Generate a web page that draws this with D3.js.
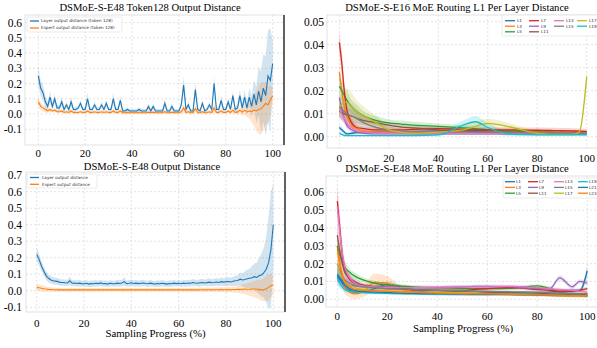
<!DOCTYPE html>
<html>
<head>
<meta charset="utf-8">
<script src="https://cdn.jsdelivr.net/npm/d3@7"></script>
<style>
  body { margin: 0; background: #fff; }
  svg { display: block; font-family: "Liberation Serif", "Times New Roman", serif; }
</style>
</head>
<body>
<div id="chart"></div>
<script>
// ---- data ----
const progress = d3.range(0, 101);

const tokenLayerMean = [0.25,0.17,0.14,0.08,0.05,0.11,0.05,0.10,0.04,0.04,
  0.08,0.03,0.06,0.03,0.08,0.03,0.03,0.04,0.07,0.03,
  0.03,0.10,0.03,0.03,0.06,0.03,0.03,0.06,0.03,0.07,
  0.03,0.03,0.10,0.03,0.03,0.09,0.02,0.02,0.03,0.02,
  0.02,0.02,0.02,0.03,0.02,0.02,0.02,0.05,0.02,0.05,
  0.02,0.02,0.02,0.02,0.07,0.02,0.02,0.05,0.02,0.02,
  0.02,0.06,0.19,0.03,0.06,0.02,0.02,0.16,0.03,0.02,
  0.07,0.02,0.03,0.06,0.03,0.20,0.03,0.03,0.09,0.03,
  0.03,0.08,0.03,0.12,0.03,0.04,0.12,0.04,0.11,0.04,
  0.11,0.05,0.13,0.06,0.15,0.08,0.17,0.12,0.25,0.22,0.33];
const tokenLayerSd = [0.06,0.05,0.05,0.04,0.03,0.04,0.02,0.03,0.02,0.02,
  0.03,0.015,0.02,0.015,0.03,0.015,0.015,0.015,0.02,0.015,
  0.015,0.04,0.015,0.015,0.02,0.015,0.015,0.02,0.015,0.02,
  0.015,0.015,0.04,0.015,0.015,0.03,0.012,0.012,0.015,0.012,
  0.012,0.012,0.012,0.015,0.012,0.012,0.012,0.02,0.012,0.02,
  0.012,0.012,0.012,0.012,0.03,0.012,0.012,0.02,0.012,0.012,
  0.012,0.02,0.06,0.015,0.02,0.012,0.012,0.05,0.015,0.012,
  0.02,0.012,0.015,0.02,0.015,0.05,0.015,0.015,0.03,0.015,
  0.015,0.025,0.015,0.03,0.02,0.025,0.04,0.03,0.05,0.04,
  0.06,0.07,0.09,0.12,0.16,0.2,0.22,0.26,0.3,0.34,0.15];
const tokenExpertMean = [0.08,0.05,0.04,0.03,0.02,0.03,0.02,0.025,0.015,0.015,
  0.02,0.01,0.015,0.01,0.02,0.01,0.01,0.01,0.015,0.01,
  0.01,0.02,0.01,0.01,0.015,0.01,0.01,0.015,0.01,0.015,
  0.01,0.01,0.02,0.01,0.01,0.02,0.008,0.008,0.01,0.008,
  0.008,0.008,0.008,0.01,0.008,0.008,0.008,0.012,0.008,0.012,
  0.008,0.008,0.008,0.008,0.015,0.008,0.008,0.012,0.008,0.008,
  0.008,0.015,0.04,0.01,0.015,0.008,0.008,0.035,0.01,0.008,
  0.015,0.008,0.01,0.015,0.01,0.04,0.01,0.01,0.02,0.01,
  0.01,0.02,0.01,0.025,0.01,0.012,0.025,0.012,0.025,0.012,
  0.02,0.015,0.025,0.02,0.03,0.035,0.05,0.07,0.06,0.09,0.12];
const tokenExpertSd = [0.03,0.025,0.02,0.02,0.015,0.015,0.012,0.012,0.01,0.01,
  0.012,0.01,0.01,0.01,0.012,0.01,0.01,0.01,0.01,0.01,
  0.01,0.012,0.01,0.01,0.01,0.01,0.01,0.01,0.01,0.01,
  0.01,0.01,0.012,0.01,0.01,0.012,0.008,0.008,0.008,0.008,
  0.008,0.008,0.008,0.008,0.008,0.008,0.008,0.01,0.008,0.01,
  0.008,0.008,0.008,0.008,0.012,0.008,0.008,0.01,0.008,0.008,
  0.008,0.012,0.03,0.01,0.012,0.008,0.008,0.025,0.01,0.008,
  0.012,0.008,0.01,0.012,0.01,0.03,0.01,0.01,0.015,0.01,
  0.01,0.015,0.01,0.02,0.012,0.015,0.02,0.02,0.03,0.03,
  0.05,0.07,0.1,0.13,0.16,0.17,0.16,0.14,0.12,0.1,0.05];

const layerMean = [0.22,0.19,0.15,0.12,0.09,0.075,0.065,0.06,0.058,0.055,
  0.05,0.05,0.048,0.047,0.06,0.045,0.047,0.044,0.046,0.043,
  0.042,0.045,0.04,0.043,0.042,0.045,0.043,0.047,0.042,0.044,
  0.04,0.045,0.043,0.042,0.046,0.044,0.047,0.055,0.043,0.045,
  0.048,0.044,0.046,0.043,0.045,0.047,0.044,0.042,0.046,0.043,
  0.041,0.044,0.042,0.045,0.043,0.04,0.044,0.042,0.046,0.043,
  0.045,0.042,0.046,0.044,0.047,0.045,0.05,0.047,0.045,0.048,
  0.05,0.047,0.049,0.052,0.048,0.05,0.053,0.05,0.055,0.052,
  0.054,0.056,0.053,0.057,0.06,0.062,0.07,0.065,0.068,0.072,
  0.075,0.078,0.085,0.08,0.09,0.095,0.11,0.13,0.17,0.25,0.40];
const layerSd = [0.04,0.035,0.03,0.025,0.025,0.025,0.022,0.022,0.02,0.02,
  0.02,0.02,0.02,0.02,0.025,0.018,0.02,0.018,0.02,0.018,
  0.018,0.02,0.018,0.02,0.018,0.02,0.018,0.02,0.018,0.02,
  0.018,0.02,0.018,0.018,0.02,0.02,0.02,0.025,0.018,0.02,
  0.02,0.018,0.02,0.018,0.02,0.02,0.018,0.018,0.02,0.018,
  0.018,0.02,0.018,0.02,0.018,0.018,0.02,0.018,0.02,0.018,
  0.02,0.018,0.02,0.02,0.02,0.02,0.022,0.02,0.02,0.022,
  0.022,0.02,0.022,0.024,0.022,0.022,0.024,0.022,0.025,0.024,
  0.025,0.026,0.025,0.028,0.03,0.032,0.04,0.04,0.05,0.055,
  0.06,0.07,0.08,0.09,0.11,0.13,0.15,0.2,0.28,0.35,0.25];
const expertMean = [0.02,0.018,0.015,0.012,0.01,0.008,0.007,0.006,0.006,0.005,
  0.005,0.005,0.005,0.005,0.006,0.005,0.005,0.005,0.005,0.005,
  0.005,0.005,0.005,0.005,0.005,0.005,0.005,0.005,0.005,0.005,
  0.005,0.005,0.005,0.005,0.005,0.005,0.005,0.005,0.005,0.005,
  0.005,0.005,0.005,0.005,0.005,0.005,0.005,0.005,0.005,0.005,
  0.005,0.005,0.005,0.005,0.005,0.005,0.005,0.005,0.005,0.005,
  0.005,0.005,0.005,0.005,0.005,0.005,0.006,0.005,0.005,0.006,
  0.006,0.005,0.006,0.006,0.005,0.006,0.006,0.006,0.007,0.006,
  0.006,0.007,0.006,0.007,0.007,0.008,0.008,0.009,0.01,0.009,
  0.009,0.01,0.01,0.009,0.008,0.005,0.006,0.012,0.02,0.03,0.035];
const expertSd = [0.02,0.02,0.018,0.018,0.016,0.015,0.014,0.012,0.012,0.012,
  0.012,0.01,0.012,0.01,0.014,0.01,0.012,0.01,0.012,0.01,
  0.012,0.01,0.012,0.01,0.012,0.01,0.012,0.01,0.012,0.01,
  0.012,0.01,0.012,0.01,0.012,0.01,0.012,0.014,0.01,0.012,
  0.012,0.01,0.012,0.01,0.012,0.01,0.012,0.01,0.012,0.01,
  0.012,0.01,0.012,0.01,0.012,0.01,0.012,0.01,0.012,0.01,
  0.012,0.01,0.012,0.01,0.012,0.012,0.014,0.012,0.012,0.014,
  0.014,0.012,0.014,0.014,0.012,0.014,0.015,0.014,0.016,0.015,
  0.016,0.018,0.016,0.018,0.02,0.02,0.025,0.028,0.03,0.035,
  0.04,0.045,0.05,0.055,0.06,0.065,0.07,0.075,0.08,0.07,0.06];

// routing L1 distances, sampled at these progress points
const routingX = [0,1,2,3,5,7,10,15,20,25,30,40,50,55,60,70,80,85,89,94,97,100];

const e16Layers = ['L1','L3','L5','L7','L9','L11','L13','L15','L17','L19'];
const e16Mean = [
  [0.004,0.003,0.002,0.0012,0.0015,0.0018,0.002,0.002,0.002,0.002,0.0022,0.0025,0.003,0.0028,0.0025,0.002,0.0018,0.0018,0.0018,0.0018,0.0018,0.0018],
  [0.028,0.02,0.013,0.009,0.005,0.0035,0.0025,0.002,0.002,0.002,0.002,0.002,0.0022,0.0022,0.0022,0.002,0.002,0.002,0.002,0.002,0.002,0.002],
  [0.022,0.02,0.018,0.016,0.013,0.011,0.009,0.007,0.006,0.0055,0.005,0.0045,0.0038,0.0035,0.003,0.0025,0.002,0.002,0.0018,0.0018,0.0018,0.0018],
  [0.041,0.032,0.02,0.012,0.006,0.004,0.0035,0.003,0.003,0.003,0.0032,0.0035,0.0032,0.003,0.003,0.003,0.0028,0.0027,0.0026,0.0025,0.0024,0.0022],
  [0.017,0.012,0.008,0.005,0.003,0.002,0.0015,0.0012,0.0012,0.0012,0.0012,0.0012,0.0012,0.0012,0.0012,0.0012,0.0012,0.0012,0.0012,0.0012,0.0012,0.0012],
  [0.011,0.0105,0.01,0.0095,0.009,0.008,0.007,0.006,0.005,0.0042,0.0038,0.003,0.0025,0.0022,0.002,0.0018,0.0016,0.0015,0.0015,0.0015,0.0015,0.0015],
  [0.012,0.01,0.008,0.006,0.004,0.0025,0.002,0.0015,0.0015,0.0015,0.0015,0.0015,0.0015,0.0015,0.0015,0.0015,0.0015,0.0015,0.0015,0.0015,0.0015,0.0015],
  [0.013,0.012,0.011,0.01,0.009,0.008,0.006,0.004,0.003,0.0025,0.002,0.002,0.002,0.002,0.002,0.0018,0.0016,0.0015,0.0015,0.0015,0.0015,0.0015],
  [0.013,0.014,0.015,0.015,0.013,0.011,0.009,0.006,0.003,0.002,0.0015,0.002,0.003,0.0045,0.0058,0.004,0.0015,0.001,0.001,0.001,0.002,0.026],
  [0.0015,0.001,0.0006,0.0005,0.0005,0.0005,0.0005,0.0005,0.0005,0.0005,0.0005,0.0008,0.005,0.0065,0.004,0.001,0.0008,0.0008,0.0008,0.0008,0.0008,0.0008]
];
const e16Sd = [
  [0.001,0.001,0.0008,0.0008,0.0008,0.0008,0.0008,0.0008,0.0008,0.0008,0.0008,0.0008,0.0008,0.0008,0.0008,0.0008,0.0008,0.0008,0.0008,0.0008,0.0008,0.0008],
  [0.004,0.004,0.003,0.003,0.002,0.0015,0.001,0.0008,0.0008,0.0008,0.0008,0.0008,0.0008,0.0008,0.0008,0.0008,0.0008,0.0008,0.0008,0.0008,0.0008,0.0008],
  [0.004,0.004,0.004,0.004,0.003,0.003,0.002,0.002,0.0015,0.0015,0.0015,0.0012,0.0012,0.001,0.001,0.001,0.001,0.001,0.001,0.001,0.001,0.001],
  [0.005,0.005,0.004,0.003,0.002,0.0015,0.001,0.001,0.001,0.001,0.001,0.001,0.001,0.001,0.001,0.001,0.0012,0.0012,0.0012,0.0012,0.0012,0.0012],
  [0.003,0.003,0.002,0.0015,0.001,0.0008,0.0006,0.0005,0.0005,0.0005,0.0005,0.0005,0.0005,0.0005,0.0005,0.0005,0.0005,0.0005,0.0005,0.0005,0.0005,0.0005],
  [0.003,0.003,0.003,0.003,0.003,0.0025,0.002,0.0015,0.0012,0.001,0.001,0.001,0.0008,0.0008,0.0008,0.0008,0.0008,0.0008,0.0008,0.0008,0.0008,0.0008],
  [0.003,0.003,0.002,0.0015,0.001,0.0008,0.0006,0.0005,0.0005,0.0005,0.0005,0.0005,0.0005,0.0005,0.0005,0.0005,0.0005,0.0005,0.0005,0.0005,0.0005,0.0005],
  [0.004,0.005,0.005,0.005,0.005,0.004,0.003,0.002,0.0015,0.001,0.001,0.001,0.001,0.001,0.001,0.0008,0.0008,0.0008,0.0008,0.0008,0.0008,0.0008],
  [0.004,0.005,0.006,0.006,0.006,0.005,0.004,0.003,0.0015,0.001,0.001,0.001,0.0015,0.002,0.002,0.0015,0.0008,0.0006,0.0006,0.0006,0.001,0.004],
  [0.0008,0.0006,0.0005,0.0004,0.0004,0.0004,0.0004,0.0004,0.0004,0.0004,0.0004,0.0006,0.002,0.0025,0.002,0.0008,0.0005,0.0005,0.0005,0.0005,0.0005,0.0005]
];

const e48Layers = ['L1','L3','L5','L7','L9','L11','L13','L15','L17','L19','L21','L23'];
const e48Mean = [
  [0.013,0.011,0.009,0.007,0.005,0.004,0.0045,0.006,0.0085,0.007,0.005,0.0035,0.003,0.003,0.003,0.0032,0.0035,0.004,0.0045,0.005,0.005,0.016],
  [0.03,0.02,0.012,0.007,0.004,0.003,0.004,0.0095,0.009,0.006,0.0045,0.0035,0.003,0.003,0.003,0.0028,0.0025,0.0022,0.002,0.002,0.002,0.002],
  [0.03,0.025,0.021,0.018,0.015,0.013,0.011,0.009,0.008,0.0075,0.007,0.0065,0.0062,0.006,0.006,0.0062,0.0075,0.006,0.004,0.003,0.003,0.003],
  [0.055,0.04,0.025,0.017,0.011,0.009,0.008,0.007,0.006,0.006,0.0055,0.005,0.005,0.0055,0.006,0.0065,0.0055,0.005,0.0045,0.0045,0.005,0.006],
  [0.02,0.016,0.013,0.011,0.009,0.008,0.0075,0.007,0.007,0.0065,0.0065,0.0065,0.007,0.0072,0.0073,0.007,0.006,0.006,0.012,0.007,0.01,0.009],
  [0.036,0.027,0.02,0.015,0.012,0.01,0.008,0.007,0.0065,0.006,0.0055,0.005,0.0045,0.0045,0.004,0.0038,0.0035,0.003,0.003,0.0025,0.0025,0.0025],
  [0.052,0.038,0.026,0.018,0.012,0.009,0.0075,0.007,0.0065,0.0065,0.0065,0.0068,0.007,0.007,0.007,0.0072,0.0065,0.006,0.0055,0.005,0.0045,0.004],
  [0.014,0.012,0.011,0.01,0.008,0.0075,0.007,0.0065,0.006,0.0058,0.0055,0.005,0.0048,0.0045,0.0045,0.0042,0.004,0.0038,0.0035,0.0033,0.003,0.003],
  [0.02,0.015,0.012,0.01,0.008,0.0065,0.0055,0.005,0.0045,0.0042,0.004,0.0038,0.0035,0.0033,0.003,0.003,0.0028,0.0025,0.0022,0.002,0.0018,0.0018],
  [0.012,0.009,0.007,0.0055,0.0045,0.004,0.0038,0.0035,0.0033,0.0032,0.003,0.003,0.003,0.003,0.003,0.0028,0.0026,0.0025,0.0024,0.0023,0.0022,0.002],
  [0.014,0.012,0.01,0.008,0.006,0.005,0.0045,0.004,0.0038,0.0035,0.0033,0.003,0.003,0.0028,0.0028,0.0027,0.0025,0.0024,0.0023,0.0022,0.0022,0.002],
  [0.028,0.02,0.014,0.01,0.007,0.0055,0.005,0.0048,0.0045,0.0042,0.004,0.0035,0.0032,0.003,0.003,0.0028,0.0025,0.0024,0.0022,0.002,0.002,0.002]
];
const e48Sd = [
  [0.004,0.004,0.003,0.002,0.0015,0.001,0.001,0.0015,0.0015,0.0012,0.001,0.0008,0.0008,0.0008,0.0008,0.0008,0.0008,0.0008,0.001,0.001,0.001,0.004],
  [0.006,0.006,0.005,0.004,0.003,0.003,0.003,0.005,0.004,0.002,0.0012,0.001,0.0008,0.0008,0.0008,0.0008,0.0008,0.0008,0.0008,0.0008,0.0008,0.0008],
  [0.004,0.004,0.003,0.003,0.002,0.002,0.0015,0.0012,0.001,0.001,0.001,0.001,0.001,0.001,0.001,0.001,0.001,0.001,0.001,0.0008,0.0008,0.0008],
  [0.008,0.007,0.005,0.004,0.002,0.0015,0.0012,0.001,0.001,0.001,0.001,0.001,0.001,0.001,0.001,0.001,0.001,0.001,0.001,0.001,0.001,0.0012],
  [0.004,0.003,0.003,0.002,0.0015,0.0012,0.001,0.001,0.001,0.001,0.001,0.001,0.001,0.001,0.001,0.001,0.001,0.001,0.0015,0.0012,0.0012,0.0012],
  [0.006,0.005,0.004,0.003,0.002,0.0015,0.0012,0.001,0.001,0.001,0.001,0.001,0.001,0.001,0.001,0.0008,0.0008,0.0008,0.0008,0.0008,0.0008,0.0008],
  [0.012,0.01,0.007,0.004,0.002,0.0015,0.0012,0.001,0.001,0.001,0.001,0.001,0.001,0.001,0.001,0.001,0.001,0.001,0.001,0.001,0.001,0.001],
  [0.004,0.003,0.003,0.002,0.0015,0.0012,0.001,0.001,0.001,0.001,0.001,0.001,0.001,0.001,0.001,0.0008,0.0008,0.0008,0.0008,0.0008,0.0008,0.0008],
  [0.004,0.003,0.003,0.002,0.0015,0.0012,0.001,0.001,0.001,0.001,0.001,0.0008,0.0008,0.0008,0.0008,0.0008,0.0008,0.0008,0.0008,0.0008,0.0008,0.0008],
  [0.003,0.003,0.002,0.0015,0.001,0.001,0.0008,0.0008,0.0008,0.0008,0.0008,0.0008,0.0008,0.0008,0.0008,0.0008,0.0008,0.0008,0.0008,0.0008,0.0008,0.0008],
  [0.004,0.003,0.003,0.002,0.0015,0.001,0.001,0.001,0.0008,0.0008,0.0008,0.0008,0.0008,0.0008,0.0008,0.0008,0.0008,0.0008,0.0008,0.0008,0.0008,0.0008],
  [0.005,0.004,0.003,0.002,0.0015,0.0012,0.001,0.001,0.001,0.0008,0.0008,0.0008,0.0008,0.0008,0.0008,0.0008,0.0008,0.0008,0.0008,0.0008,0.0008,0.0008]
];

const tenColors = ['#1f77b4','#ff7f0e','#2ca02c','#d62728','#9467bd','#8c564b','#e377c2','#7f7f7f','#bcbd22','#17becf'];

// ---- layout ----
const svg = d3.select('#chart').append('svg')
  .attr('width', 597)
  .attr('height', 348);

function makePanel(cfg) {
  const g = svg.append('g');
  const x = d3.scaleLinear().domain([0, 100]).range(cfg.xRange);
  const y = d3.scaleLinear().domain(cfg.yDomain).range(cfg.yRange);
  const f = cfg.frame;

  // grid
  g.append('g').selectAll('line')
    .data([0, 20, 40, 60, 80, 100])
    .join('line')
    .attr('x1', d => x(d)).attr('x2', d => x(d))
    .attr('y1', f.t).attr('y2', f.b)
    .attr('stroke', '#d0d0d0').attr('stroke-width', 0.6)
    .attr('stroke-dasharray', '2,2');
  g.append('g').selectAll('line')
    .data(cfg.yTicks)
    .join('line')
    .attr('x1', f.l).attr('x2', f.r)
    .attr('y1', d => y(d)).attr('y2', d => y(d))
    .attr('stroke', '#d0d0d0').attr('stroke-width', 0.6)
    .attr('stroke-dasharray', '2,2');

  // frame
  g.append('rect')
    .attr('x', f.l).attr('y', f.t)
    .attr('width', f.r - f.l).attr('height', f.b - f.t)
    .attr('fill', 'none').attr('stroke', '#d9d9d9').attr('stroke-width', 0.8);
  if (cfg.darkRight) {
    g.append('line')
      .attr('x1', f.r).attr('x2', f.r).attr('y1', f.t).attr('y2', f.b)
      .attr('stroke', '#333').attr('stroke-width', 1.5);
  }

  // tick labels
  g.append('g').selectAll('text')
    .data(cfg.yTicks)
    .join('text')
    .attr('x', cfg.yLabelX)
    .attr('y', d => y(d))
    .attr('dy', '0.35em')
    .attr('text-anchor', 'end')
    .style('font-size', '11.5px')
    .text(d => d3.format(cfg.yFmt)(d).replace('−', '-'));
  g.append('g').selectAll('text')
    .data([0, 20, 40, 60, 80, 100])
    .join('text')
    .attr('x', d => x(d))
    .attr('y', cfg.xLabelY)
    .attr('text-anchor', 'middle')
    .style('font-size', '11px')
    .text(d => d);

  g.append('text')
    .attr('x', cfg.titleX).attr('y', cfg.titleY)
    .attr('text-anchor', 'middle')
    .style('font-size', '10.6px')
    .text(cfg.title);

  if (cfg.axisTitleY) {
    g.append('text')
      .attr('x', cfg.axisTitleX).attr('y', cfg.axisTitleY)
      .attr('text-anchor', 'middle')
      .style('font-size', '10.8px')
      .text('Sampling Progress (%)');
  }

  const clipId = 'clip-' + cfg.id;
  svg.append('clipPath').attr('id', clipId)
    .append('rect')
    .attr('x', f.l).attr('y', f.t)
    .attr('width', f.r - f.l).attr('height', f.b - f.t);
  const plot = g.append('g').attr('clip-path', `url(#${clipId})`);
  return { g, plot, x, y };
}

function drawSeries(p, xs, mean, sd, color, curve, width) {
  const pts = xs.map((t, i) => ({ t, m: mean[i], s: sd[i] }));
  const area = d3.area()
    .x(d => p.x(d.t))
    .y0(d => p.y(d.m - d.s))
    .y1(d => p.y(d.m + d.s))
    .curve(curve);
  const line = d3.line()
    .x(d => p.x(d.t))
    .y(d => p.y(d.m))
    .curve(curve);
  p.plot.append('path').datum(pts)
    .attr('d', area)
    .attr('fill', color).attr('fill-opacity', 0.2).attr('stroke', 'none');
  return () => p.plot.append('path').datum(pts)
    .attr('d', line)
    .attr('fill', 'none').attr('stroke', color).attr('stroke-width', width);
}

// colSizes: how many entries go in each legend column (matplotlib fills columns top-down)
function drawLegend(items, box, colSizes, rowY, colX, lineLen, textDx, fontSize) {
  const lg = svg.append('g');
  lg.append('rect')
    .attr('x', box.x).attr('y', box.y)
    .attr('width', box.w).attr('height', box.h)
    .attr('fill', '#fff').attr('fill-opacity', 0.85)
    .attr('stroke', '#ddd').attr('stroke-width', 0.6).attr('rx', 1.5);
  let idx = 0;
  colSizes.forEach((n, c) => {
    for (let r = 0; r < n; r++) {
      const it = items[idx++];
      const lx = colX[c], ly = rowY[r];
      lg.append('line')
        .attr('x1', lx).attr('x2', lx + lineLen)
        .attr('y1', ly).attr('y2', ly)
        .attr('stroke', it.color).attr('stroke-width', 1.3);
      lg.append('text')
        .attr('x', lx + textDx).attr('y', ly)
        .attr('dy', '0.35em')
        .style('font-family', '"DejaVu Sans", sans-serif')
        .style('font-size', fontSize + 'px')
        .attr('fill', '#333')
        .text(it.name);
    }
  });
}

// ---- top left ----
const tl = makePanel({
  id: 'tl', frame: { l: 25, r: 284, t: 15, b: 145 },
  xRange: [38.3, 272.7], yDomain: [0, 0.6], yRange: [114, 22.5],
  yTicks: [-0.1, 0, 0.1, 0.2, 0.3, 0.4, 0.5, 0.6], yFmt: '.1f',
  yLabelX: 22, xLabelY: 156.5, darkRight: true,
  title: 'DSMoE-S-E48 Token128 Output Distance', titleX: 150, titleY: 11
});
const tlBlue = drawSeries(tl, progress, tokenLayerMean, tokenLayerSd, tenColors[0], d3.curveLinear, 1.1);
const tlOrange = drawSeries(tl, progress, tokenExpertMean, tokenExpertSd, tenColors[1], d3.curveLinear, 1.1);
tlBlue(); tlOrange();
drawLegend([
  { name: 'Layer output distance (token 128)', color: tenColors[0] },
  { name: 'Expert output distance (token 128)', color: tenColors[1] }
], { x: 27, y: 17, w: 95, h: 15 }, [2], [21, 28], [30], 9, 11, 4.2);

// ---- bottom left ----
const bl = makePanel({
  id: 'bl', frame: { l: 26, r: 285, t: 172, b: 312 },
  xRange: [36.7, 273.3], yDomain: [0, 0.7], yRange: [290.7, 175.2],
  yTicks: [-0.1, 0, 0.1, 0.2, 0.3, 0.4, 0.5, 0.6, 0.7], yFmt: '.1f',
  yLabelX: 22, xLabelY: 326.5, darkRight: true,
  title: 'DSMoE-S-E48 Output Distance', titleX: 152, titleY: 170,
  axisTitleX: 155.5, axisTitleY: 337
});
const blBlue = drawSeries(bl, progress, layerMean, layerSd, tenColors[0], d3.curveLinear, 1.1);
const blOrange = drawSeries(bl, progress, expertMean, expertSd, tenColors[1], d3.curveLinear, 1.1);
blBlue(); blOrange();
drawLegend([
  { name: 'Layer output distance', color: tenColors[0] },
  { name: 'Expert output distance', color: tenColors[1] }
], { x: 27, y: 174, w: 70, h: 14 }, [2], [177.5, 184.3], [30], 9, 12, 4.2);

// ---- top right ----
const tr = makePanel({
  id: 'tr', frame: { l: 327, r: 598, t: 15, b: 148 },
  xRange: [339.3, 586.7], yDomain: [0, 0.05], yRange: [136.7, 21.7],
  yTicks: [0, 0.01, 0.02, 0.03, 0.04, 0.05], yFmt: '.2f',
  yLabelX: 324, xLabelY: 161.5,
  title: 'DSMoE-S-E16 MoE Routing L1 Per Layer Distance', titleX: 457, titleY: 11
});
const trLines = e16Layers.map((name, i) =>
  drawSeries(tr, routingX, e16Mean[i], e16Sd[i], tenColors[i % 10], d3.curveMonotoneX, 1.3));
trLines.forEach(fn => fn());
drawLegend(e16Layers.map((name, i) => ({ name, color: tenColors[i % 10] })),
  { x: 502, y: 15, w: 96, h: 21 }, [3, 3, 2, 2], [20.7, 26.2, 31.8],
  [505, 529, 554, 577], 10, 12, 4.2);

// ---- bottom right ----
const br = makePanel({
  id: 'br', frame: { l: 326, r: 599, t: 176, b: 307 },
  xRange: [337.3, 587.3], yDomain: [0, 0.06], yRange: [299.3, 192.3],
  yTicks: [0, 0.01, 0.02, 0.03, 0.04, 0.05, 0.06], yFmt: '.2f',
  yLabelX: 324, xLabelY: 319.5,
  title: 'DSMoE-S-E48 MoE Routing L1 Per Layer Distance', titleX: 457, titleY: 171.5,
  axisTitleX: 463, axisTitleY: 331.5
});
const brLines = e48Layers.map((name, i) =>
  drawSeries(br, routingX, e48Mean[i], e48Sd[i], tenColors[i % 10], d3.curveMonotoneX, 1.3));
brLines.forEach(fn => fn());
drawLegend(e48Layers.map((name, i) => ({ name, color: tenColors[i % 10] })),
  { x: 503, y: 178, w: 95, h: 20 }, [3, 3, 3, 3], [181.7, 187.4, 193.2],
  [505, 528, 554, 578], 10, 11, 4.2);
</script>
</body>
</html>
